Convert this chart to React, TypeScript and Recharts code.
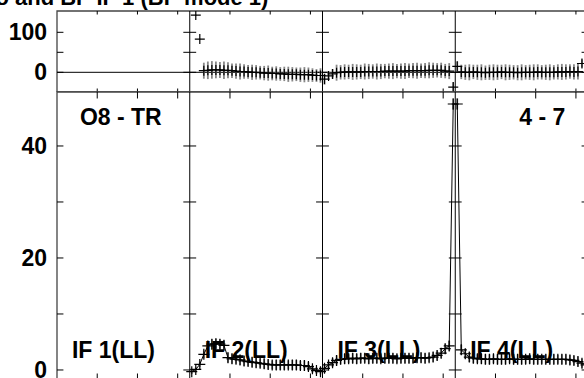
import {
  ComposedChart,
  Line,
  XAxis,
  YAxis,
  ReferenceLine,
  ReferenceArea,
  ReferenceDot,
  ErrorBar,
} from "recharts";

// channel layout: 4 IFs, 33 channels each
const SEG = 33;
const X_MAX = 132;
const xTicks = [10, 20, 30, 43, 53, 63, 76, 86, 96, 109, 119, 129];
const dividers = [33, 66, 99];

const phaseTicks = [0, 50, 100];
const phaseTickLabels = [0, 100];
const ampTicks = [0, 10, 20, 30, 40];
const ampTickLabels = [0, 20, 40];

const title = "o and BP IF 1 (BP mode 1)";
const ifLabels = ["IF 1(LL)", "IF 2(LL)", "IF 3(LL)", "IF 4(LL)"];
const baselineLabel = "O8 - TR";
const channelLabel = "4 - 7";

// phase (top panel), per IF
const phaseIF1: (number | null)[] = [];
const phaseIF2: (number | null)[] = [
  null, 143, 83, 4, 5, 6, 6, 6, 5, 5, 4, 3, 2, 2, 1, 0, 0, -1, -2, -2, -3, -3,
  -4, -4, -5, -5, -5, -6, -6, -6, -7, -8, -8,
];
const phaseIF3: (number | null)[] = [
  -17, -9, -4, -1, 0, 1, 1, 1, 1, 1, 2, 2, 2, 2, 2, 3, 3, 3, 3, 3, 3, 4, 4, 4,
  4, 4, 5, 5, 5, 5, 3, 3, -37,
];
const phaseIF4: (number | null)[] = [
  15, 1, 0, 0, 1, 0, 0, -1, 0, 0, 0, 1, 0, 0, 0, -1, 0, 0, 0, 0, 1, 0, 0, 0, 0,
  1, 1, 1, 2, 1, 2, 22, null,
];
const phaseErrIF1: number[] = [];
const phaseErrIF2 = [
  0, 1, 1, 20, 22, 22, 21, 20, 22, 20, 18, 19, 20, 18, 17, 19, 18, 17, 18, 19,
  17, 18, 17, 18, 19, 18, 17, 18, 19, 18, 17, 16, 18,
];
const phaseErrIF3 = [
  14, 10, 12, 20, 18, 19, 18, 20, 19, 18, 20, 19, 18, 20, 19, 18, 19, 20, 18,
  19, 20, 18, 19, 20, 18, 19, 20, 19, 18, 19, 18, 20, 12,
];
const phaseErrIF4 = [
  12, 18, 19, 20, 18, 19, 20, 18, 19, 20, 19, 18, 20, 19, 18, 19, 20, 18, 19,
  20, 19, 18, 19, 20, 18, 19, 20, 19, 18, 19, 20, 10, 0,
];

// amplitude (bottom panel), per IF
const ampIF1: (number | null)[] = [];
const ampIF2: (number | null)[] = [
  -0.3, 0.1, 1.0, 2.8, 4.3, 4.6, 4.7, 4.6, 4.4, 2.2, 2.0, 1.9, 1.8, 1.6, 1.5,
  1.4, 1.3, 1.2, 1.1, 1.0, 0.9, 0.9, 0.9, 0.9, 0.9, 0.9, 0.9, 0.8, 0.8, 0.6,
  0.2, -0.1, -0.3,
];
const ampIF3: (number | null)[] = [
  0.3, 0.9, 1.3, 1.7, 1.9, 2.0, 2.0, 2.1, 2.0, 2.1, 2.1, 2.0, 2.1, 2.1, 2.0,
  2.1, 2.1, 2.1, 2.0, 2.1, 2.1, 2.1, 2.1, 2.2, 2.2, 2.1, 2.2, 2.3, 2.6, 3.0,
  3.8, 4.3, 47.5,
];
const ampIF4: (number | null)[] = [
  47.5, 3.6, 2.9, 2.3, 2.1, 2.0, 2.0, 1.9, 1.9, 2.0, 1.9, 1.9, 1.9, 2.0, 1.9,
  1.9, 1.9, 1.9, 2.0, 1.9, 1.9, 1.9, 1.9, 1.9, 1.9, 1.9, 1.9, 1.9, 1.8, 1.7,
  1.5, 1.2, 0.9,
];
const ampErrIF1: number[] = [];
const ampErrIF2 = [
  0.4, 0.4, 0.5, 0.7, 0.9, 0.9, 0.9, 0.9, 0.9, 0.9, 0.9, 0.8, 0.9, 0.9, 0.8,
  0.9, 0.9, 0.8, 0.9, 0.9, 0.8, 0.9, 0.9, 0.9, 0.8, 0.9, 0.9, 0.8, 0.9, 0.8,
  0.7, 0.6, 0.5,
];
const ampErrIF3 = [
  0.5, 0.7, 0.8, 0.9, 0.9, 0.9, 0.8, 0.9, 0.9, 0.9, 0.8, 0.9, 0.9, 0.9, 0.8,
  0.9, 0.9, 0.9, 0.8, 0.9, 0.9, 0.9, 0.8, 0.9, 0.9, 0.9, 0.8, 0.9, 0.9, 0.9,
  0.9, 0.9, 1.0,
];
const ampErrIF4 = [
  1.0, 0.9, 0.9, 0.9, 0.9, 0.8, 0.9, 0.9, 0.9, 0.8, 0.9, 0.9, 0.9, 0.8, 0.9,
  0.9, 0.9, 0.8, 0.9, 0.9, 0.9, 0.8, 0.9, 0.9, 0.9, 0.8, 0.9, 0.9, 0.9, 0.8,
  0.9, 0.8, 0.7,
];

type Row = { ch: number; v: number; err: number };

function buildRows(values: (number | null)[][], errs: number[][]): Row[] {
  const rows: Row[] = [];
  values.forEach((seg, s) =>
    seg.forEach((v, i) => {
      if (v === null) return;
      rows.push({ ch: s * SEG + 0.5 + i, v, err: errs[s][i] ?? 0 });
    }),
  );
  return rows;
}

const phaseRows = buildRows(
  [phaseIF1, phaseIF2, phaseIF3, phaseIF4],
  [phaseErrIF1, phaseErrIF2, phaseErrIF3, phaseErrIF4],
);
const ampRows = buildRows(
  [ampIF1, ampIF2, ampIF3, ampIF4],
  [ampErrIF1, ampErrIF2, ampErrIF3, ampErrIF4],
);

const PH_DOMAIN: [number, number] = [-49.25, 153.25];
const AMP_DOMAIN: [number, number] = [-1.79, 49.64];

const FONT = "'Liberation Sans', Arial, Helvetica, sans-serif";
const tickStyle = { fill: "#000", fontSize: 23, fontWeight: 700, fontFamily: FONT };

const plusDot = (size: number) => (props: any) => {
  const { cx, cy, index } = props;
  if (cx == null || cy == null) return <g key={`p${index}`} />;
  return (
    <path
      key={`p${index}`}
      d={`M${cx - size},${cy}H${cx + size}M${cx},${cy - size}V${cy + size}`}
      stroke="#000"
      strokeWidth={1.2}
      fill="none"
    />
  );
};

const textLabel = (text: string) => (props: any) => {
  const vb = props.viewBox || {};
  return (
    <text
      x={vb.x}
      y={vb.y}
      textAnchor="start"
      fontSize={23}
      fontWeight={700}
      fontFamily={FONT}
      fill="#000"
    >
      {text}
    </text>
  );
};

// inward tick marks on borders and both-sided ticks on IF dividers
function panelTicks(
  key: string,
  yTicks: number[],
  domain: [number, number],
  xLen: number,
  yLen: number,
) {
  const out: JSX.Element[] = [];
  yTicks.forEach((t) => {
    out.push(
      <ReferenceLine key={`${key}l${t}`} segment={[{ x: 0, y: t }, { x: xLen, y: t }]} stroke="#000" />,
      <ReferenceLine key={`${key}r${t}`} segment={[{ x: X_MAX - xLen, y: t }, { x: X_MAX, y: t }]} stroke="#000" />,
    );
    dividers.forEach((d) =>
      out.push(
        <ReferenceLine key={`${key}d${d}_${t}`} segment={[{ x: d - xLen, y: t }, { x: d + xLen, y: t }]} stroke="#000" />,
      ),
    );
  });
  xTicks.forEach((x) => {
    out.push(
      <ReferenceLine key={`${key}t${x}`} segment={[{ x, y: domain[1] }, { x, y: domain[1] - yLen }]} stroke="#000" />,
      <ReferenceLine key={`${key}b${x}`} segment={[{ x, y: domain[0] }, { x, y: domain[0] + yLen }]} stroke="#000" />,
    );
  });
  return out;
}

export default function App() {
  return (
    <div
      style={{
        position: "fixed",
        left: 0,
        top: 0,
        width: 584,
        height: 378,
        overflow: "hidden",
        background: "#fff",
      }}
    >
      <svg width={584} height={20} style={{ position: "absolute", left: 0, top: 0 }}>
        <text x={-4.6} y={4.5} fontSize={22} fontWeight={700} fontFamily={FONT} fill="#000">
          {title}
        </text>
      </svg>

      {/* phase panel */}
      <div style={{ position: "absolute", left: 0, top: 0 }}>
        <ComposedChart
          width={590}
          height={92}
          data={phaseRows}
          margin={{ top: 11, right: 2, bottom: 0, left: 0 }}
        >
          <XAxis dataKey="ch" type="number" domain={[0, X_MAX]} hide allowDataOverflow />
          <YAxis
            type="number"
            domain={PH_DOMAIN}
            ticks={phaseTickLabels}
            interval={0}
            width={57}
            axisLine={false}
            tickLine={false}
            tickSize={0}
            tickMargin={10}
            tick={tickStyle}
            allowDataOverflow
          />
          <ReferenceArea
            x1={0}
            x2={X_MAX}
            y1={PH_DOMAIN[0]}
            y2={PH_DOMAIN[1]}
            fill="none"
            fillOpacity={0}
            stroke="#444"
            strokeWidth={1.3}
          />
          <ReferenceLine y={0} stroke="#000" />
          {dividers.map((d) => (
            <ReferenceLine key={`pd${d}`} x={d} stroke="#000" />
          ))}
          {panelTicks("p", phaseTicks, PH_DOMAIN, 1.6, 8.75)}
          <Line
            dataKey="v"
            type="linear"
            stroke="none"
            isAnimationActive={false}
            dot={plusDot(5)}
            activeDot={false}
          >
            <ErrorBar dataKey="err" width={0} stroke="#888" strokeWidth={1.8} direction="y" />
          </Line>
        </ComposedChart>
      </div>

      {/* amplitude panel */}
      <div style={{ position: "absolute", left: 0, top: 0 }}>
        <ComposedChart
          width={590}
          height={390}
          data={ampRows}
          margin={{ top: 92, right: 2, bottom: 10, left: 0 }}
        >
          <XAxis dataKey="ch" type="number" domain={[0, X_MAX]} hide allowDataOverflow />
          <YAxis
            type="number"
            domain={AMP_DOMAIN}
            ticks={ampTickLabels}
            interval={0}
            width={57}
            axisLine={false}
            tickLine={false}
            tickSize={0}
            tickMargin={10}
            tick={tickStyle}
            allowDataOverflow
          />
          <ReferenceArea
            x1={0}
            x2={X_MAX}
            y1={AMP_DOMAIN[0]}
            y2={AMP_DOMAIN[1]}
            fill="none"
            fillOpacity={0}
            stroke="#444"
            strokeWidth={1.3}
          />
          {dividers.map((d) => (
            <ReferenceLine key={`ad${d}`} x={d} stroke="#000" />
          ))}
          {panelTicks("a", ampTicks, AMP_DOMAIN, 1.6, 1.16)}
          <Line
            dataKey="v"
            type="linear"
            stroke="#000"
            strokeWidth={1}
            isAnimationActive={false}
            dot={plusDot(5.5)}
            activeDot={false}
          >
            <ErrorBar dataKey="err" width={0} stroke="#888" strokeWidth={1.8} direction="y" />
          </Line>
          <ReferenceDot x={5.7} y={43.75} r={0} fill="none" stroke="none" label={textLabel(baselineLabel)} />
          <ReferenceDot x={114.9} y={43.75} r={0} fill="none" stroke="none" label={textLabel(channelLabel)} />
          {ifLabels.map((t, s) => (
            <ReferenceDot
              key={t}
              x={s * SEG + 3.7}
              y={2.2}
              r={0}
              fill="none"
              stroke="none"
              label={textLabel(t)}
            />
          ))}
        </ComposedChart>
      </div>
    </div>
  );
}
